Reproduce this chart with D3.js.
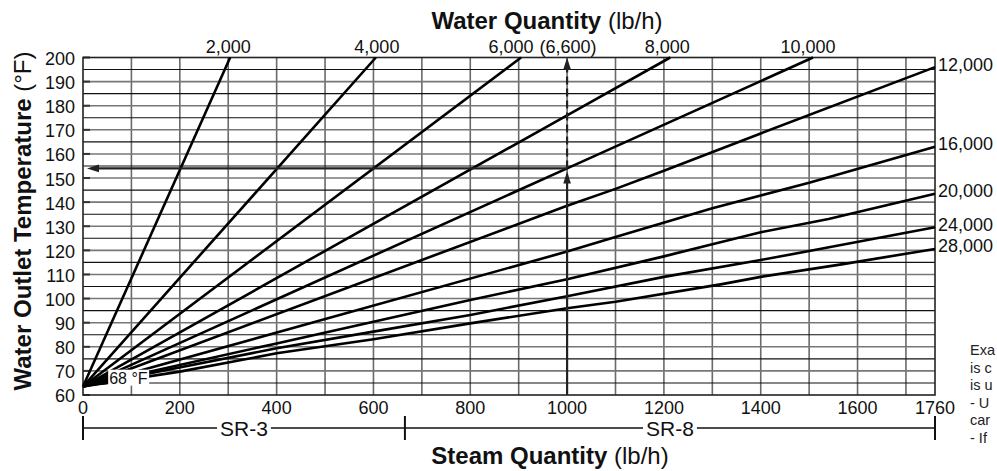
<!DOCTYPE html>
<html><head><meta charset="utf-8">
<script src="https://cdn.jsdelivr.net/npm/d3@7/dist/d3.min.js"></script>
<style>
html,body{margin:0;padding:0;background:#fff;overflow:hidden;}
svg{display:block;font-family:"Liberation Sans",Arial,sans-serif;}
</style></head>
<body>
<svg id="chart" width="997" height="471"></svg>
<script>
// ---- data ----
const steamTicks = [0, 200, 400, 600, 800, 1000, 1200, 1400, 1600, 1760];
const tempTicks = [60, 70, 80, 90, 100, 110, 120, 130, 140, 150, 160, 170, 180, 190, 200];
const waterFlows = ["2,000", "4,000", "6,000", "8,000", "10,000", "12,000", "16,000", "20,000", "24,000", "28,000"];
const curve2000 = [[0, 63.5], [304, 200]];
const curve4000 = [[0, 63.5], [605, 200]];
const curve6000 = [[0, 63.5], [905, 200]];
const curve8000 = [[0, 63.5], [1000, 176], [1213, 200]];
const curve10000 = [[0, 63.5], [1000, 154], [1508, 200]];
const curve12000 = [[0, 63.5], [1000, 138.5], [1100, 145.5], [1200, 153], [1400, 168.5], [1760, 196]];
const curve16000 = [[0, 63.5], [1000, 119.5], [1100, 125.5], [1300, 137.5], [1500, 148], [1760, 163]];
const curve20000 = [[0, 63.5], [400, 81.4], [600, 90.4], [800, 99.4], [1000, 108], [1200, 117.5], [1300, 122.5], [1400, 127.5], [1540, 133], [1760, 143.5]];
const curve24000 = [[0, 63.5], [400, 79.4], [600, 86.3], [800, 93.2], [1000, 101], [1200, 109], [1400, 116], [1500, 119.7], [1760, 129.6]];
const curve28000 = [[0, 63.5], [200, 69.7], [400, 77.3], [600, 83.1], [800, 89.7], [1000, 96], [1100, 98.7], [1320, 106], [1400, 109], [1570, 114.3], [1760, 120.6]];
const curves = [curve2000, curve4000, curve6000, curve8000, curve10000, curve12000, curve16000, curve20000, curve24000, curve28000];
const exampleSteam = 1000, exampleTemp = 154, exampleWater = "(6,600)";
const originTemp = 63.5, originLabel = "68 °F";
const modelRanges = [["SR-3", 0, 665], ["SR-8", 665, 1760]];
// note at the right edge: only the part visible in the reference
const exampleText = ["Exa", "is c", "is u", "- U", "car", "- If"];

// ---- layout ----
const svg = d3.select("#chart");
const x = d3.scaleLinear().domain([0, 1760]).range([83, 935]);
const y = d3.scaleLinear().domain([60, 200]).range([395, 57.5]);

// grid
const g = svg.append("g");
g.selectAll("line.v").data(d3.range(100, 1760, 100)).enter().append("line")
  .attr("x1", d => x(d)).attr("x2", d => x(d)).attr("y1", y(60)).attr("y2", y(200))
  .attr("stroke", "#6a6a6a").attr("stroke-width", 1.6);
g.selectAll("line.h").data(d3.range(65, 200, 5)).enter().append("line")
  .attr("x1", x(0)).attr("x2", x(1760)).attr("y1", d => y(d)).attr("y2", d => y(d))
  .attr("stroke", d => d % 10 === 0 ? "#777" : "#111")
  .attr("stroke-width", d => d % 10 === 0 ? 1.6 : 1.1);
g.selectAll("line.t").data(tempTicks).enter().append("line")
  .attr("x1", x(0)).attr("x2", x(0) + 7).attr("y1", d => y(d)).attr("y2", d => y(d))
  .attr("stroke", "#333").attr("stroke-width", 2);
g.append("rect").attr("x", x(0)).attr("y", y(200)).attr("width", x(1760) - x(0)).attr("height", y(60) - y(200))
  .attr("fill", "none").attr("stroke", "#222").attr("stroke-width", 1.6);

// axis labels
svg.append("g").selectAll("text").data(tempTicks).enter().append("text")
  .attr("x", 75).attr("y", d => y(d) + 1).attr("dy", "0.36em").attr("text-anchor", "end")
  .attr("font-size", 18).attr("fill", "#111").text(d => d);
svg.append("g").selectAll("text").data(steamTicks).enter().append("text")
  .attr("x", d => x(d)).attr("y", 408).attr("dy", "0.36em").attr("text-anchor", "middle")
  .attr("font-size", 18).attr("fill", "#111").text(d => d);

// curves
const line = d3.line().x(d => x(d[0])).y(d => y(d[1]));
svg.append("g").selectAll("path").data(curves).enter().append("path")
  .attr("d", line).attr("fill", "none").attr("stroke", "#000").attr("stroke-width", 2.6)
  .attr("stroke-linejoin", "round");

// origin leader wedge + label
svg.append("path")
  .attr("d", `M${x(0)},${y(originTemp)} L${x(52)},${y(69)} L${x(52)},${y(64.5)} Z`)
  .attr("fill", "#000");
svg.append("rect").attr("x", x(52)).attr("y", y(70.5)).attr("width", 41).attr("height", 16).attr("fill", "#fff");
svg.append("text").attr("x", x(52) + 1).attr("y", y(67)).attr("dy", "0.36em")
  .attr("font-size", 16).attr("fill", "#111").text(originLabel);

// curve labels
const topFlows = waterFlows.slice(0, 5);
const ends = curves.map(c => c[c.length - 1]);
const topShift = [-2, 1, -10, -3, -5];
svg.append("g").selectAll("text").data(topFlows).enter().append("text")
  .attr("x", (d, i) => x(ends[i][0]) + topShift[i]).attr("y", 47).attr("dy", "0.36em")
  .attr("text-anchor", "middle").attr("font-size", 18).attr("fill", "#111").text(d => d);
svg.append("text").attr("x", x(exampleSteam) + 1).attr("y", 47).attr("dy", "0.36em")
  .attr("text-anchor", "middle").attr("font-size", 18).attr("fill", "#111").text(exampleWater);
svg.append("g").selectAll("text").data(waterFlows.slice(5)).enter().append("text")
  .attr("x", x(1760) + 3).attr("y", (d, i) => y(ends[i + 5][1]) - 3).attr("dy", "0.36em")
  .attr("font-size", 18).attr("fill", "#111").text(d => d);

// example arrows
const arrowHead = (tipX, tipY, dir) => {
  const L = 12, W = 3.8;
  if (dir === "up") return `M${tipX},${tipY} L${tipX - W},${tipY + L} L${tipX + W},${tipY + L} Z`;
  return `M${tipX},${tipY} L${tipX + L},${tipY - W} L${tipX + L},${tipY + W} Z`;
};
const ax = x(exampleSteam), ay = y(exampleTemp);
svg.append("line").attr("x1", ax).attr("x2", ax).attr("y1", y(60)).attr("y2", ay + 6)
  .attr("stroke", "#222").attr("stroke-width", 2.2);
svg.append("path").attr("d", arrowHead(ax, ay + 3, "up")).attr("fill", "#222");
svg.append("line").attr("x1", ax).attr("x2", ax).attr("y1", ay).attr("y2", y(200) + 10)
  .attr("stroke", "#222").attr("stroke-width", 2.2).attr("stroke-dasharray", "8,4");
svg.append("path").attr("d", arrowHead(ax, y(200), "up")).attr("fill", "#222");
svg.append("line").attr("x1", ax).attr("x2", x(0) + 12).attr("y1", ay).attr("y2", ay)
  .attr("stroke", "#222").attr("stroke-width", 2.2);
svg.append("path").attr("d", arrowHead(x(0) + 4, ay, "left")).attr("fill", "#222");

// model ranges bar
const barY = 428;
svg.append("line").attr("x1", x(0)).attr("x2", x(1760)).attr("y1", barY).attr("y2", barY)
  .attr("stroke", "#111").attr("stroke-width", 1.6);
const bounds = [0, modelRanges[0][2], 1760];
svg.append("g").selectAll("line").data(bounds).enter().append("line")
  .attr("x1", d => x(d)).attr("x2", d => x(d)).attr("y1", barY - 12).attr("y2", barY + 12)
  .attr("stroke", "#111").attr("stroke-width", 2);
modelRanges.forEach(r => {
  const cx = (x(r[1]) + x(r[2])) / 2;
  const bg = svg.append("rect").attr("fill", "#fff");
  const t = svg.append("text").attr("x", cx).attr("y", barY).attr("dy", "0.36em")
    .attr("text-anchor", "middle").attr("font-size", 21).attr("fill", "#111").text(r[0]);
  const bb = t.node().getBBox();
  bg.attr("x", bb.x - 3).attr("y", barY - 3).attr("width", bb.width + 6).attr("height", 6);
});

// titles
const title = (tx, ty, bold, rest, rot) => {
  const t = svg.append("text").attr("text-anchor", "middle").attr("font-size", 24).attr("fill", "#111")
    .attr("transform", `translate(${tx},${ty})` + (rot ? " rotate(-90)" : "")).attr("dy", "0.36em");
  t.append("tspan").attr("font-weight", "bold").text(bold);
  t.append("tspan").text(rest);
};
title(547, 20, "Water Quantity", " (lb/h)", false);
title(550, 455, "Steam Quantity", " (lb/h)", false);
title(22, 221, "Water Outlet Temperature", " (°F)", true);

// example note at the right edge
svg.append("g").selectAll("text").data(exampleText).enter().append("text")
  .attr("x", 970).attr("y", (d, i) => 350 + i * 17.5).attr("dy", "0.36em")
  .attr("font-size", 14.5).attr("fill", "#222").text(d => d);
</script>
</body></html>
